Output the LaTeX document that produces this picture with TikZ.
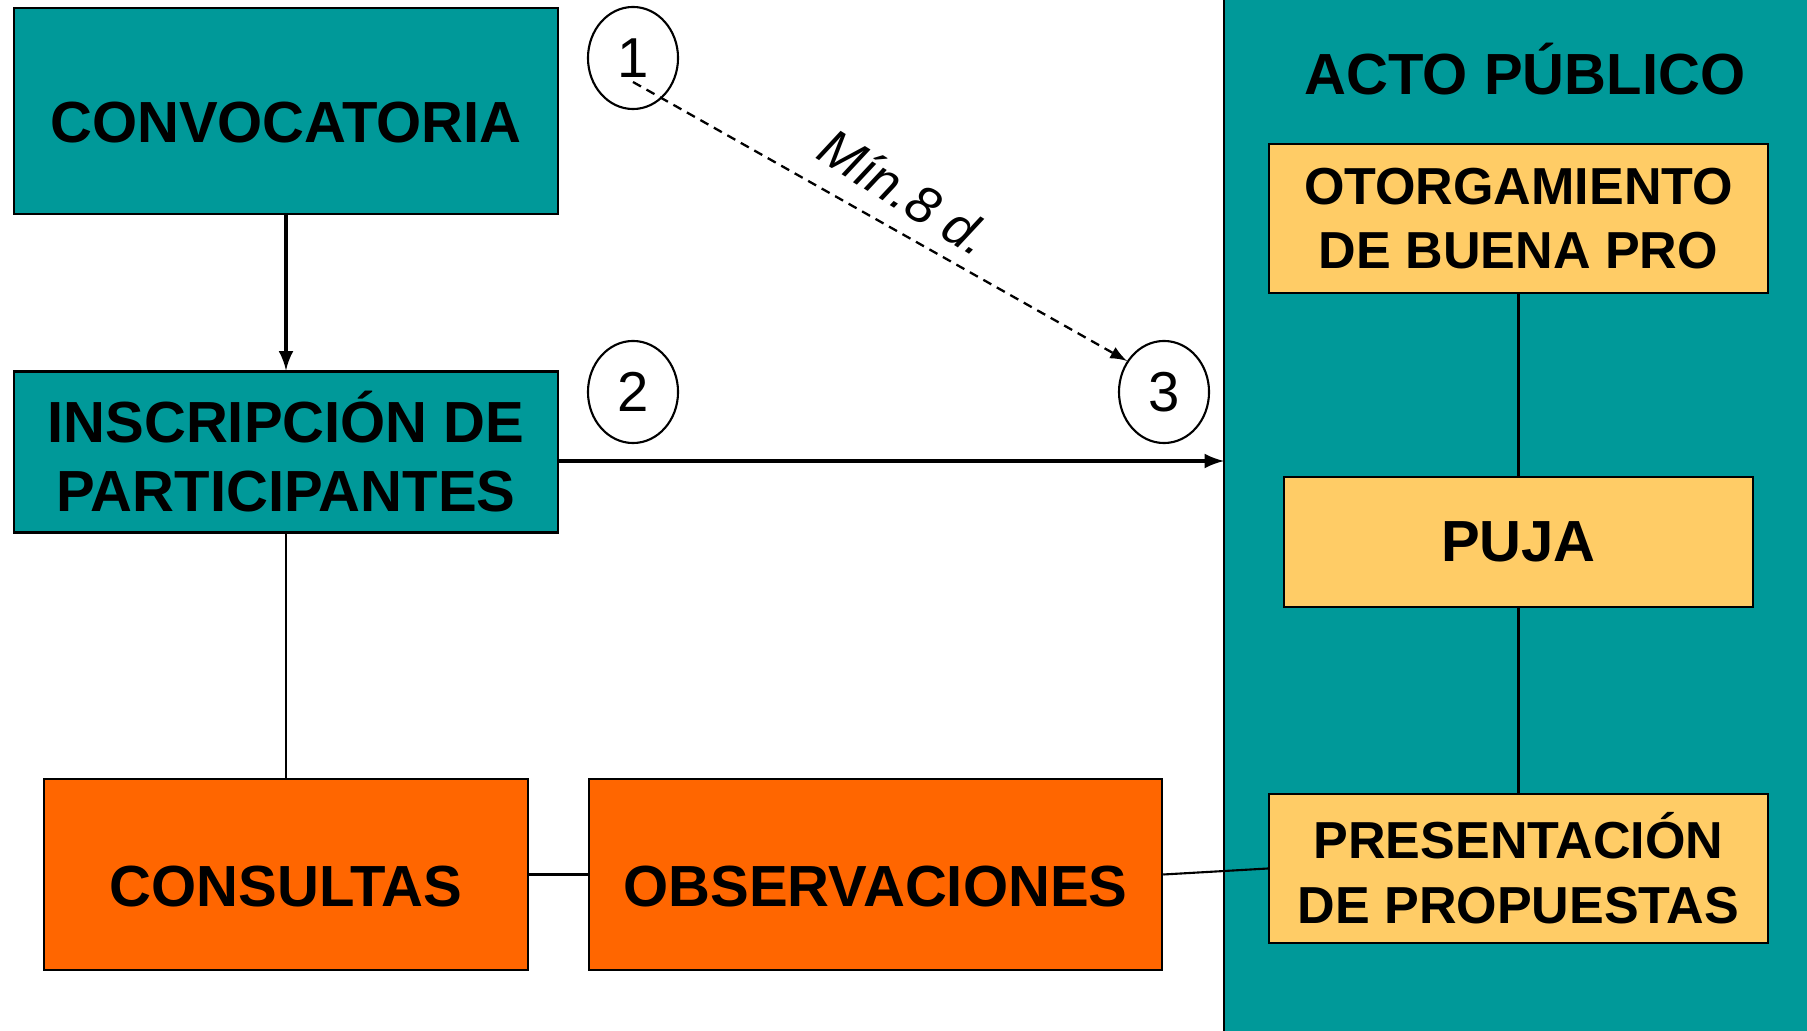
\documentclass[tikz,border=0pt]{standalone}
\usepackage{fontspec}
\setmainfont{Liberation Sans}
\usetikzlibrary{shapes.geometric}

\definecolor{actoteal}{RGB}{0,153,153}
\definecolor{cajanaranja}{RGB}{255,102,0}
\definecolor{cajaamarilla}{RGB}{255,204,102}

\begin{document}
\begin{tikzpicture}[x=0.01cm, y=-0.01cm, >=latex,
    caja/.style={draw, line width=0.6pt, inner sep=0pt, align=center,
        font=\bfseries\fontsize{16.5}{19.6}\selectfont},
    cajachica/.style={caja, font=\bfseries\fontsize{14.8}{18.4}\selectfont},
    textobajo/.style={text height=0.63cm, text depth=0pt},
    hito/.style={draw, ellipse, line width=0.6pt, inner sep=0pt,
        minimum width=0.90cm, minimum height=1.02cm,
        font=\fontsize{16}{19}\selectfont},
    enlace/.style={line width=0.6pt},
    flecha/.style={->, line width=0.9pt}]

        % ==== DEFINITIONS ====
        \def\colX{286}   % x of the left column
        \def\actoX{1518.5} % x of the public act column

        % ==== CANVAS ====
        \useasboundingbox (0,0) rectangle (1807,1031);

        % ==== ACTO PUBLICO PANEL ====
        \fill[actoteal] (1224,0) rectangle (1807,1031);
        \draw[enlace] (1224,0) -- (1224,1031);
        \coordinate (actoW) at (1224,461);
        \node (titulo) at (1525,69) {\bfseries\fontsize{16.5}{19.6}\selectfont ACTO PÚBLICO};

        % ==== LEFT COLUMN ====
        \node[caja, textobajo, fill=actoteal, minimum width=5.44cm, minimum height=2.06cm]
            (conv) at (\colX,111) {CONVOCATORIA};
        \node[caja, fill=actoteal, minimum width=5.44cm, minimum height=1.61cm]
            (insc) at (\colX,452) {INSCRIPCIÓN DE\\PARTICIPANTES};

        % ==== BOTTOM ROW ====
        \node[caja, textobajo, fill=cajanaranja, minimum width=4.84cm, minimum height=1.91cm]
            (cons) at (\colX,874.5) {CONSULTAS};
        \node[caja, textobajo, fill=cajanaranja, minimum width=5.73cm, minimum height=1.91cm]
            (obs) at (875.5,874.5) {OBSERVACIONES};

        % ==== PUBLIC ACT STEPS ====
        \node[cajachica, fill=cajaamarilla, minimum width=4.99cm, minimum height=1.49cm]
            (otorg) at (\actoX,218.5) {OTORGAMIENTO\\DE BUENA PRO};
        \node[caja, fill=cajaamarilla, minimum width=4.69cm, minimum height=1.30cm]
            (puja) at (\actoX,542) {PUJA};
        \node[cajachica, fill=cajaamarilla, minimum width=4.99cm, minimum height=1.49cm]
            (pres) at (\actoX,868.5) {PRESENTACIÓN\\DE PROPUESTAS};

        % ==== MILESTONES 1, 2, 3 ====
        \node[hito] (h1) at (633,58) {1};
        \node[hito] (h2) at (633,392) {2};
        \node[hito] (h3) at (1164,392) {3};

        % ==== CONNECTORS ====
        \draw[flecha] (conv.south) -- (insc.north);
        \draw[flecha] (insc.east |- actoW) -- (actoW);
        \draw[enlace] (insc.south) -- (cons.north);
        \draw[enlace] (cons.east) -- (obs.west);
        \draw[enlace] (obs.east) -- (pres.west);
        \draw[enlace] (otorg.south) -- (puja.north);
        \draw[enlace] (puja.south) -- (pres.north);

        % ==== MINIMUM TERM ====
        \draw[->, line width=0.65pt, dash pattern=on 2.6pt off 1.8pt]
            ([yshift=-0.24cm]h1.center) -- (h3.140);
        \node[rotate=-32, font=\itshape\fontsize{15}{18}\selectfont]
            (plazo) at (905,192) {Mín.8 d.};
    \end{tikzpicture}
\end{document}
